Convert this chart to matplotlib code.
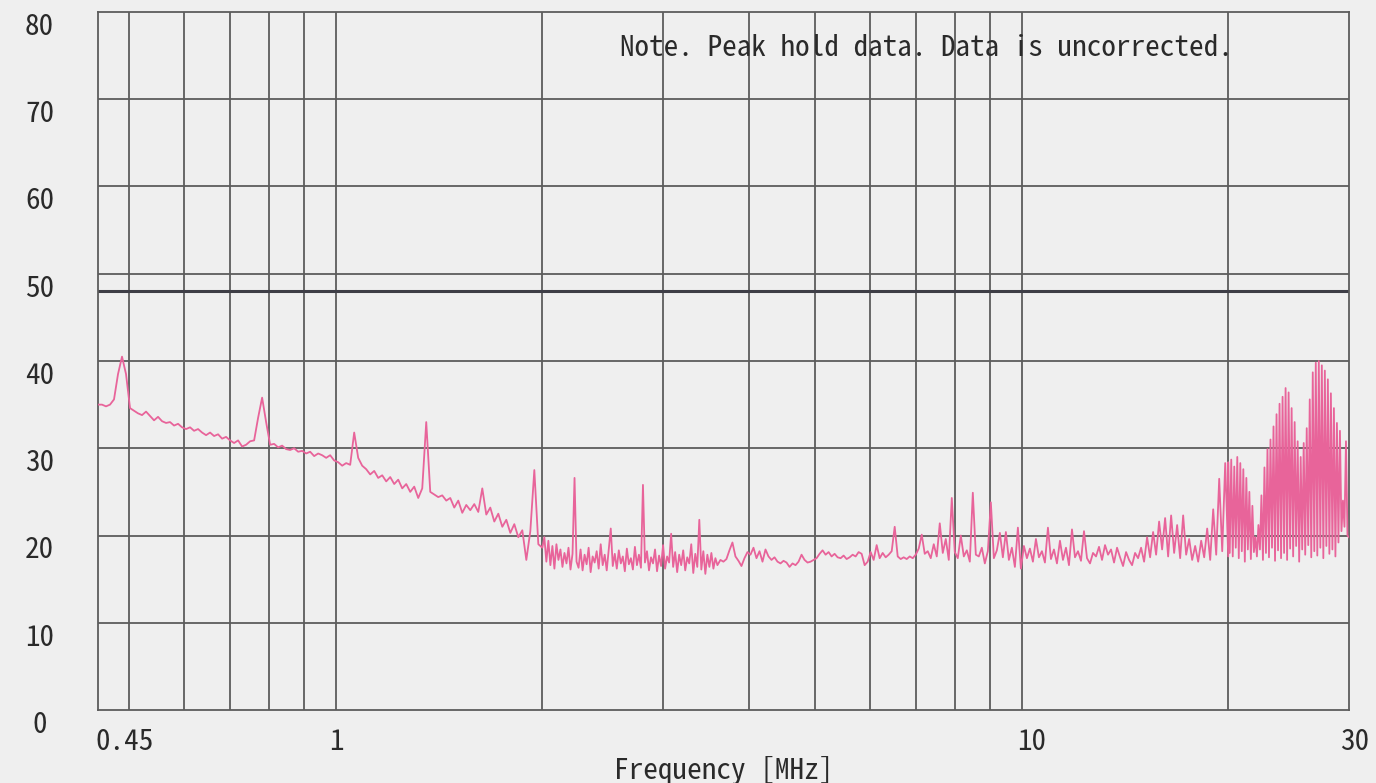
import numpy as np
import matplotlib
matplotlib.use('Agg')
import matplotlib.pyplot as plt
from matplotlib.ticker import NullLocator, NullFormatter
from matplotlib.transforms import ScaledTranslation

# peak-hold levels [dBuV], four sweeps, log-spaced points
# sweep A: 0.45 - 2 MHz
level_a = [
    35.0, 35.0, 34.8, 35.0, 35.6, 38.5, 40.5, 38.5, 34.6, 34.3,
    34.0, 33.8, 34.2, 33.7, 33.2, 33.6, 33.1, 32.9, 33.0, 32.6,
    32.8, 32.4, 32.2, 32.4, 32.0, 32.2, 31.8, 31.5, 31.8, 31.4,
    31.6, 31.1, 31.3, 30.9, 30.6, 30.9, 30.2, 30.4, 30.8, 30.9,
    33.5, 35.8, 33.0, 30.4, 30.5, 30.1, 30.3, 29.9, 29.8, 30.0,
    29.6, 29.7, 29.4, 29.6, 29.1, 29.4, 29.2, 28.9, 29.2, 28.6,
    28.4, 28.0, 28.3, 28.1, 31.8, 28.9, 28.0, 27.6, 27.0, 27.4,
    26.6, 26.9, 26.2, 26.7, 25.9, 26.4, 25.4, 25.9, 25.0, 25.6,
    24.3, 25.4, 33.0, 25.0, 24.7, 24.4, 24.6, 24.0, 24.3, 23.2,
    24.0, 22.6, 23.5, 22.9, 23.6, 22.7, 25.4, 22.4, 23.2, 21.6,
    22.5, 21.0, 21.8, 20.3, 21.3, 19.8, 20.6, 17.2, 20.5, 27.5,
    19.0, 18.6,
]

# sweep B1: 2 - 3.6 MHz (finer step)
level_b1 = [
    18.6, 19.8, 17.0, 19.4, 16.6, 18.8, 16.2, 19.0, 17.2, 18.4,
    16.4, 18.0, 16.8, 18.6, 16.1, 17.9, 26.6, 17.0, 16.3, 18.4,
    16.0, 17.8, 16.7, 18.6, 15.8, 17.6, 16.9, 18.2, 16.2, 19.0,
    16.6, 17.8, 16.0, 18.4, 20.8, 16.5, 17.9, 16.2, 18.3, 16.8,
    17.6, 15.9, 18.5, 16.7, 17.4, 16.1, 18.7, 16.6, 17.8, 16.3,
    25.8, 16.9, 18.2, 16.0, 17.5, 16.8, 18.4, 15.9, 17.7, 16.5,
    18.9, 16.2, 17.6, 16.9, 20.2, 16.4, 18.1, 15.8, 17.8, 16.6,
    18.3, 16.0, 17.5, 16.8, 19.0, 15.7, 17.9, 16.4, 21.8, 16.1,
    18.2, 15.6, 17.8, 16.4, 18.0, 16.2, 17.4, 16.6,
]

# sweep B2: 3.6 - 20 MHz
level_b2 = [
    16.6,
    17.2, 17.0, 17.3, 18.3, 19.2, 17.6, 17.1, 16.5, 17.4, 18.1,
    17.8, 18.6, 17.4, 18.2, 17.0, 18.4, 17.6, 17.2, 17.5, 17.0,
    16.8, 17.1, 16.9, 16.4, 16.8, 16.6, 17.0, 17.8, 17.2, 16.9,
    17.0, 17.2, 17.4, 17.9, 18.3, 17.8, 18.1, 17.6, 17.9, 17.5,
    17.4, 17.7, 17.3, 17.5, 17.8, 17.6, 18.1, 17.9, 16.6, 17.0,
    18.1, 17.2, 18.9, 17.4, 18.0, 17.5, 17.8, 18.2, 21.0, 17.6,
    17.3, 17.5, 17.3, 17.6, 17.4, 17.8, 18.5, 20.1, 17.9, 18.2,
    17.4, 19.0, 17.6, 21.4, 18.0, 19.6, 17.2, 24.3, 18.1, 17.4,
    20.0, 17.6, 18.3, 17.0, 24.9, 17.8, 17.6, 18.6, 16.8, 18.2,
    23.8, 17.4, 18.3, 20.3, 17.5, 20.4, 17.2, 18.6, 16.4, 20.9,
    16.2, 18.8, 17.4, 18.5, 17.0, 19.6, 17.5, 18.2, 16.9, 20.9,
    17.3, 18.4, 16.8, 19.4, 17.2, 18.6, 16.6, 20.7, 17.5, 18.2,
    17.1, 20.5, 17.4, 16.8, 18.0, 17.6, 18.7, 17.2, 18.9, 17.8,
    18.4, 16.9, 18.6, 17.5, 16.5, 18.1, 17.2, 16.6, 18.0, 17.4,
    18.6, 17.0, 19.8, 17.5, 20.4, 17.8, 21.6, 18.4, 22.0, 17.6,
    22.3, 18.0, 21.2, 17.4, 22.3, 17.8, 19.6, 17.2, 18.8, 17.0,
    19.4, 17.5, 20.8, 17.2, 23.0, 17.8, 26.5, 18.2, 28.3, 17.6,
]

# sweep C: 20 - 30 MHz
level_c = [
    28.4, 18.0, 28.7, 17.6, 27.9, 18.6, 29.0, 17.4, 28.3, 18.2,
    27.6, 17.0, 26.6, 18.4, 25.0, 17.3, 23.4, 18.1, 19.8, 17.6,
    21.2, 18.4, 24.6, 17.2, 27.8, 18.0, 29.9, 17.5, 31.0, 18.6,
    32.5, 17.1, 33.9, 18.3, 35.1, 17.4, 35.9, 18.0, 36.9, 17.2,
    36.4, 18.5, 34.6, 17.6, 33.0, 18.8, 30.8, 17.0, 29.0, 18.4,
    30.6, 17.8, 32.3, 18.9, 35.6, 17.5, 38.7, 18.2, 39.8, 17.7,
    40.0, 18.6, 39.5, 17.4, 38.9, 18.8, 37.9, 17.9, 36.3, 18.4,
    34.6, 17.6, 32.9, 19.2, 32.0, 20.5, 24.0, 21.0, 30.8, 20.0,
    19.8,
]

band_edges = [0.45, 2.0, 3.6, 20.0, 30.0]
limit_db = 48
x_ticks = [0.45, 1, 10, 30]
x_tick_labels = ['0.45', '1', '10', '30']
y_ticks = [0, 10, 20, 30, 40, 50, 60, 70, 80]
grid_freqs = [0.5, 0.6, 0.7, 0.8, 0.9, 1, 2, 3, 4, 5, 6, 7, 8, 9, 10, 20]
grid_levels = [10, 20, 30, 40, 50, 60, 70]
note = 'Note. Peak hold data. Data is uncorrected.'

sweeps = [level_a, level_b1, level_b2, level_c]
freq = np.concatenate([
    np.geomspace(lo, hi, len(lv))
    for lo, hi, lv in zip(band_edges[:-1], band_edges[1:], sweeps)
])
level = np.concatenate(sweeps)

bg = '#efefef'
grid_c = '#5c5c5c'
text_c = '#2a2a2a'
trace_c = '#e8649a'
plt.rcParams['font.family'] = ['Noto Sans Mono CJK JP', 'DejaVu Sans Mono']

fig = plt.figure(figsize=(13.76, 7.83), dpi=100, facecolor=bg)
ax = fig.add_axes([98 / 1376, 1 - 710 / 783, 1251 / 1376, 698 / 783])
ax.set_facecolor(bg)

ax.set_xscale('log')
ax.set_xlim(band_edges[0], band_edges[-1])
ax.set_ylim(0, 80)

for f in grid_freqs:
    ax.axvline(f, color=grid_c, lw=1.3, zorder=1)
for g in grid_levels:
    ax.axhline(g, color=grid_c, lw=1.3, zorder=1)
ax.axhline(limit_db, color='#3e3e46', lw=2.2, zorder=1)

ax.plot(freq, level, color=trace_c, lw=1.3, zorder=3)

for s in ax.spines.values():
    s.set_color(grid_c)
    s.set_linewidth(1.3)

ax.xaxis.set_minor_locator(NullLocator())
ax.xaxis.set_minor_formatter(NullFormatter())
ax.set_xticks(x_ticks, labels=x_tick_labels)
ax.set_yticks(y_ticks)
ax.tick_params(length=0, colors=text_c, labelsize=21)
ax.tick_params(axis='x', pad=13)
ax.tick_params(axis='y', pad=42)

# nudge tick labels the way the printout places them
down = ScaledTranslation(0, -0.12, fig.dpi_scale_trans)
for lbl in ax.get_yticklabels():
    lbl.set_horizontalalignment('center')
    lbl.set_transform(lbl.get_transform() + down)
x_shift = [-0.03, 0.01, 0.10, 0.06]
for lbl, dx in zip(ax.get_xticklabels(), x_shift):
    lbl.set_transform(lbl.get_transform() + ScaledTranslation(dx, 0, fig.dpi_scale_trans))
ax.get_xticklabels()[0].set_horizontalalignment('left')

ax.set_xlabel('Frequency [MHz]', fontsize=21, color=text_c, labelpad=0)
ax.text(0.417, 0.948, note, transform=ax.transAxes, fontsize=21,
        color=text_c, ha='left', va='center', zorder=4)

fig.savefig('out.png', dpi=100, facecolor=bg)
